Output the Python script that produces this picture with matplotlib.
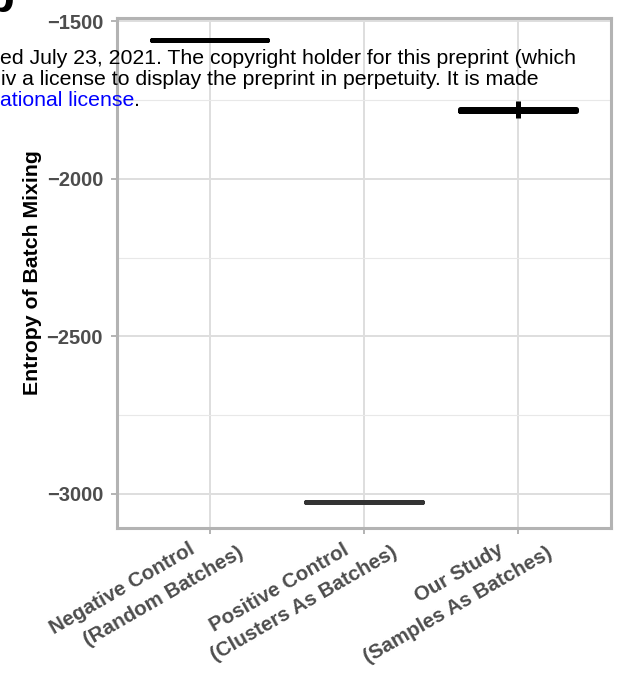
import matplotlib.pyplot as plt
import matplotlib.transforms as mtransforms

plt.rcParams['font.family'] = ['Liberation Sans', 'DejaVu Sans']

# per-group box summaries (entropy of batch mixing)
groups = ["Negative Control", "Positive Control", "Our Study"]
group_sub = ["(Random Batches)", "(Clusters As Batches)", "(Samples As Batches)"]
medians = [-1559, -3026, -1781]
q1s = [-1560, -3027, -1783]
q3s = [-1558, -3025, -1779]
whis_lo = [-1559, -3029, -1806]
whis_hi = [-1559, -3023, -1752]
box_colors = ["#000000", "#333333", "#000000"]

y_ticks = [-3000, -2500, -2000, -1500]
y_minor = [-2750, -2250, -1750]

fig = plt.figure(figsize=(6.29, 6.75), dpi=100)
ax = fig.add_axes([0.186, 0.2178, 0.785, 0.7555])

stats = []
for i in range(len(groups)):
    stats.append({"med": medians[i], "q1": q1s[i], "q3": q3s[i],
                  "whislo": whis_lo[i], "whishi": whis_hi[i], "fliers": []})

art = ax.bxp(stats, positions=[1, 2, 3], widths=0.75, showcaps=False,
             showfliers=False,
             boxprops=dict(linewidth=3.6, solid_capstyle="round"),
             whiskerprops=dict(linewidth=3.6, solid_capstyle="butt"),
             medianprops=dict(linewidth=3.6, solid_capstyle="round"))
for i, c in enumerate(box_colors):
    art["boxes"][i].set_color(c)
    art["medians"][i].set_color(c)
    art["whiskers"][2 * i].set_color(c)
    art["whiskers"][2 * i + 1].set_color(c)
for k in art:
    for a in art[k]:
        a.set_zorder(3)

ax.set_xlim(0.4, 3.6)
ax.set_ylim(-3108, -1489)
ax.set_yticks(y_ticks)
ax.set_yticklabels(["\u22123000", "\u22122500", "\u22122000", "\u22121500"])
ax.set_yticks(y_minor, minor=True)
ax.set_xticks([1, 2, 3])
ax.set_xticklabels([])

# theme_light look
ax.grid(True, which="major", color="#dedede", linewidth=1.4, zorder=0)
ax.grid(True, which="minor", axis="y", color="#e8e8e8", linewidth=0.8, zorder=0)
ax.set_axisbelow(True)
for s in ax.spines.values():
    s.set_color("#b3b3b3")
    s.set_linewidth(2.2)
ax.tick_params(axis="both", which="major", color="#b3b3b3", width=1.4, length=4,
               labelsize=14.5, labelcolor="#4d4d4d", pad=6)
ax.tick_params(axis="y", which="minor", length=0)
for lab in ax.get_yticklabels():
    lab.set_fontweight("bold")

ax.set_ylabel("Entropy of Batch Mixing", fontsize=15.3, fontweight="bold", labelpad=3)

# two-line category labels, each line placed on its own
tr1 = mtransforms.offset_copy(ax.get_xaxis_transform(), fig=fig, x=-14, y=-25, units="dots")
tr2 = mtransforms.offset_copy(ax.get_xaxis_transform(), fig=fig, x=35, y=-28, units="dots")
for i in range(len(groups)):
    ax.text(i + 1, 0, groups[i], transform=tr1, rotation=30, rotation_mode="anchor",
            ha="right", va="baseline", fontsize=14.8, fontweight="bold", color="#4d4d4d")
    ax.text(i + 1, 0, group_sub[i], transform=tr2, rotation=30, rotation_mode="anchor",
            ha="right", va="baseline", fontsize=14.8, fontweight="bold", color="#4d4d4d")

# panel letter and preprint notice over the figure
fig.text(15 / 629, 1 - 12 / 675, "b", fontsize=34, fontweight="bold", ha="right",
         va="baseline", color="black")
fs = 15.3
fig.text(0.0, 1 - 64 / 675, "ed July 23, 2021. The copyright holder for this preprint (which",
         fontsize=fs, color="black", ha="left", va="baseline", zorder=10)
fig.text(0.002, 1 - 85 / 675, "iv a license to display the preprint in perpetuity. It is made",
         fontsize=fs, color="black", ha="left", va="baseline", zorder=10)
t3 = fig.text(0.0, 1 - 106 / 675, "ational license", fontsize=fs, color="#0000ff",
              ha="left", va="baseline", zorder=10)
fig.canvas.draw()
bb = t3.get_window_extent()
fig.text(bb.x1 / fig.bbox.width, 1 - 106 / 675, ".", fontsize=fs, color="black",
         ha="left", va="baseline", zorder=10)

fig.savefig("out.png", dpi=100)
